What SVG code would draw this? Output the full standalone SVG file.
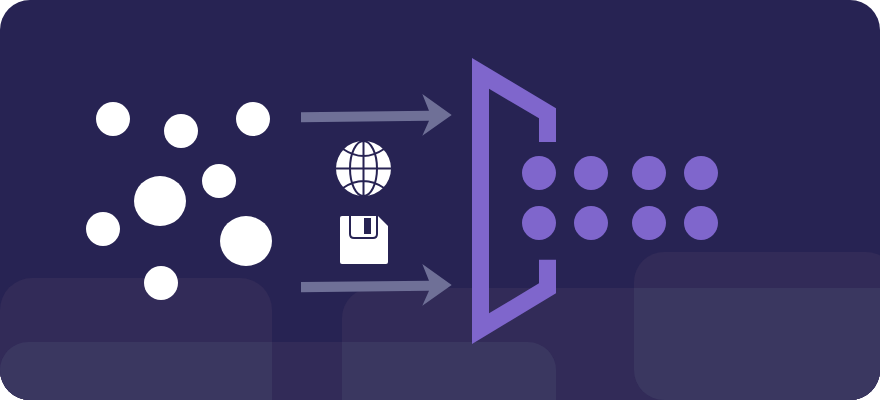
<svg xmlns="http://www.w3.org/2000/svg" width="880" height="400" viewBox="0 0 880 400">
  <style>
    .tile { fill: #322b58; }
    .overlap { fill: #3a3760; }
    .white { fill: #ffffff; }
    .dot { fill: #7f66cc; }
    .arrow { fill: #6f7097; }
    .gl { fill: none; stroke: #272353; stroke-width: 2; }
  </style>
  <defs>
    <clipPath id="card"><rect width="880" height="400" rx="30" ry="30"/></clipPath>
    <clipPath id="clipA"><rect x="0" y="278" width="272" height="160" rx="32"/></clipPath>
    <clipPath id="clipC"><rect x="342" y="288" width="600" height="160" rx="30"/></clipPath>
  </defs>
  <rect width="880" height="400" fill="#ffffff"/>
  <g id="background" clip-path="url(#card)">
    <rect width="880" height="400" fill="#272353"/>
    <rect class="tile" x="0" y="278" width="272" height="160" rx="32"/>
    <rect class="tile" x="342" y="288" width="600" height="160" rx="30"/>
    <rect class="tile" x="0" y="342" width="556" height="100" rx="28"/>
    <rect class="tile" x="634" y="252" width="262" height="148" rx="30"/>
    <g clip-path="url(#clipA)"><rect class="overlap" x="0" y="342" width="556" height="100" rx="28"/></g>
    <g clip-path="url(#clipC)">
      <rect class="overlap" x="0" y="342" width="556" height="100" rx="28"/>
      <rect class="overlap" x="634" y="252" width="262" height="148" rx="30"/>
    </g>
  </g>
  <g id="source-dots">
    <circle class="white" cx="113" cy="119" r="17"/>
    <circle class="white" cx="181" cy="131" r="17"/>
    <circle class="white" cx="253" cy="119" r="17"/>
    <circle class="white" cx="219" cy="181" r="17"/>
    <ellipse class="white" cx="160" cy="201" rx="26" ry="25"/>
    <circle class="white" cx="103" cy="229" r="17"/>
    <ellipse class="white" cx="246" cy="241" rx="26" ry="25"/>
    <circle class="white" cx="161" cy="283" r="17"/>
  </g>
  <g id="connectors">
    <polygon class="arrow" points="301,112.3 429,110.7 422.3,94 451.7,115 422.3,135.7 429,120.7 301,122.3"/>
    <polygon class="arrow" points="301,281.9 429,280.7 422.3,264 451.7,285 422.3,305.7 429,290.7 301,292.3"/>
  </g>
  <g id="globe">
    <circle class="white" cx="363.5" cy="168.5" r="27.5"/>
    <ellipse class="gl" cx="363.5" cy="168.5" rx="13.5" ry="27.5"/>
    <path class="gl" d="M363.5 141V196M336 168.5H391M343 149Q363.5 163 384 149M343 188Q363.5 174 384 188"/>
  </g>
  <g id="floppy">
    <path class="white" d="M342 216H378L388 226V262Q388 264 386 264H342Q340 264 340 262V218Q340 216 342 216Z"/>
    <path fill="none" stroke="#272353" stroke-width="2" d="M350 216V234Q350 238 354 238H373Q377 238 377 234V216"/>
    <rect x="364" y="218" width="7" height="16" fill="#272353"/>
  </g>
  <g id="bracket">
    <path class="dot" d="M472 58L556 108.3V142H539V118.3L489 88.7V313.3L539 283.3V259.7H556V293.3L472 344Z"/>
  </g>
  <g id="output-dots">
    <circle class="dot" cx="539" cy="173" r="17"/>
    <circle class="dot" cx="591" cy="173" r="17"/>
    <circle class="dot" cx="649" cy="173" r="17"/>
    <circle class="dot" cx="701" cy="173" r="17"/>
    <circle class="dot" cx="539" cy="223" r="17"/>
    <circle class="dot" cx="591" cy="223" r="17"/>
    <circle class="dot" cx="649" cy="223" r="17"/>
    <circle class="dot" cx="701" cy="223" r="17"/>
  </g>
</svg>
